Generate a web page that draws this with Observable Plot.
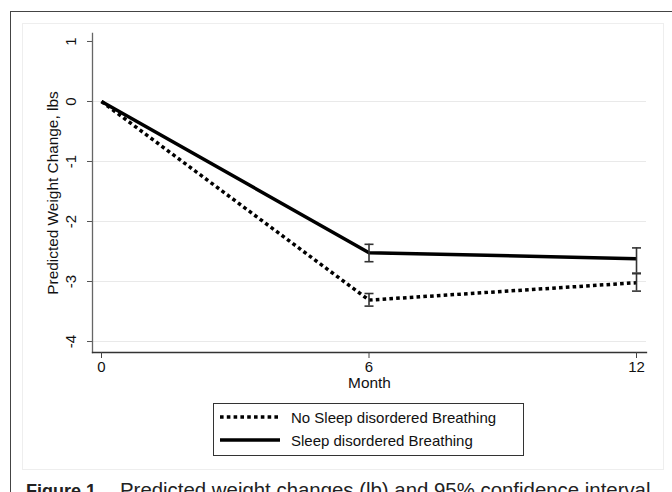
<!DOCTYPE html>
<html>
<head>
<meta charset="utf-8">
<script src="https://cdn.jsdelivr.net/npm/d3@7"></script>
<script src="https://cdn.jsdelivr.net/npm/@observablehq/plot@0.6"></script>
<style>
  html, body { margin: 0; padding: 0; background: #fff; }
  body { width: 672px; height: 492px; overflow: hidden; position: relative; font-family: "Liberation Sans", Arial, sans-serif; }
  #outer-top { position: absolute; left: 10px; top: 11px; width: 662px; height: 0; border-top: 1.5px solid #444; }
  #outer-left { position: absolute; left: 10px; top: 11px; width: 0; height: 481px; border-left: 1.5px solid #444; }
  #panel { position: absolute; left: 22px; top: 23px; width: 640px; height: 445px; border: 1px solid #eeeeee; }
  #chart { position: absolute; left: 0; top: 0; }
  #legend { position: absolute; left: 213px; top: 403px; width: 311px; height: 53px; border: 1px solid #333; background: #fff; box-sizing: border-box; }
  .row { position: absolute; left: 6px; height: 20px; display: flex; align-items: center; font-size: 15px; color: #111; }
  .row svg { margin-right: 11px; }
  #caption { position: absolute; left: 26px; top: 479px; font-size: 20.4px; color: #222; white-space: nowrap; }
  #caption b { font-size: 18px; margin-right: 19px; }
</style>
</head>
<body>
<div id="outer-top"></div>
<div id="outer-left"></div>
<div id="panel"></div>
<div id="chart"></div>
<div id="legend"></div>
<div id="caption"><b>Figure 1.</b>Predicted weight changes (lb) and 95% confidence interval</div>
<script>
// ---- data ----
const months = [0, 6, 12];
const seriesNames = ["No Sleep disordered Breathing", "Sleep disordered Breathing"];
const noSdbValues = [0, -3.31, -3.02];
const noSdbLow = [null, -3.41, -3.16];
const noSdbHigh = [null, -3.20, -2.87];
const sdbValues = [0, -2.52, -2.62];
const sdbLow = [null, -2.67, -2.86];
const sdbHigh = [null, -2.38, -2.44];
const yTicks = [1, 0, -1, -2, -3, -4];
const yGrid = [0, -1, -2, -3, -4];
const xTicks = [0, 6, 12];
const yLabel = "Predicted Weight Change, lbs";
const xLabel = "Month";

// ---- build tables ----
const rows = [];
months.forEach((m, i) => {
  rows.push({series: seriesNames[0], month: m, value: noSdbValues[i], lo: noSdbLow[i], hi: noSdbHigh[i]});
});
months.forEach((m, i) => {
  rows.push({series: seriesNames[1], month: m, value: sdbValues[i], lo: sdbLow[i], hi: sdbHigh[i]});
});
const bars = rows.filter(d => d.lo != null);
const caps = bars.flatMap(d => [{month: d.month, y: d.lo}, {month: d.month, y: d.hi}]);

const capSymbol = {
  draw(context) {
    context.moveTo(-4.5, 0);
    context.lineTo(4.5, 0);
  }
};

const font = '"Liberation Sans", Arial, sans-serif';

const plot = Plot.plot({
  width: 672,
  height: 400,
  marginLeft: 92,
  marginRight: 26,
  marginTop: 33,
  marginBottom: 48,
  style: {fontFamily: font, background: "transparent", color: "#111", overflow: "visible"},
  x: {domain: [-0.202, 12.224]},
  y: {domain: [-4.183, 1.133]},
  marks: [
    Plot.ruleY(yGrid, {stroke: "#e9e9e9", strokeWidth: 1}),
    Plot.frame({anchor: "left", stroke: "#666", strokeWidth: 1.3}),
    Plot.frame({anchor: "bottom", stroke: "#333", strokeWidth: 1.3}),
    Plot.axisY({ticks: yTicks, tickSize: 5, tickFormat: () => "", label: null, stroke: "#555"}),
    Plot.text(yTicks, {frameAnchor: "left", y: d => d, text: d => String(d), rotate: -90, dx: -21, textAnchor: "middle", lineAnchor: "middle", fontSize: 15, fill: "#111"}),
    Plot.text([yLabel], {frameAnchor: "left", text: d => d, rotate: -90, dx: -39, textAnchor: "middle", lineAnchor: "middle", fontSize: 15.4, fill: "#111"}),
    Plot.axisX({ticks: xTicks, tickSize: 6, tickPadding: 3, fontSize: 15, label: null, stroke: "#444"}),
    Plot.text([xLabel], {frameAnchor: "bottom", text: d => d, dy: 31, textAnchor: "middle", lineAnchor: "middle", fontSize: 15.4, fill: "#111"}),
    Plot.line(rows.filter(d => d.series === seriesNames[1]), {x: "month", y: "value", stroke: "#000", strokeWidth: 3.5, strokeLinecap: "butt", strokeLinejoin: "miter"}),
    Plot.line(rows.filter(d => d.series === seriesNames[0]), {x: "month", y: "value", stroke: "#000", strokeWidth: 3.5, strokeDasharray: "3.6,3.2", strokeLinecap: "butt"}),
    Plot.ruleX(bars, {x: "month", y1: "lo", y2: "hi", stroke: "#333", strokeWidth: 1.6}),
    Plot.dot(caps, {x: "month", y: "y", symbol: capSymbol, stroke: "#333", strokeWidth: 1.6, fill: "none", r: 4})
  ]
});
document.getElementById("chart").appendChild(plot);

// ---- legend ----
const legend = document.getElementById("legend");
seriesNames.forEach((name, i) => {
  const row = document.createElement("div");
  row.className = "row";
  row.style.top = (i === 0 ? 3 : 26) + "px";
  const dash = i === 0 ? 'stroke-dasharray="3.6,3.2"' : "";
  row.innerHTML = `<svg width="60" height="10"><line x1="0" y1="5" x2="60" y2="5" stroke="#000" stroke-width="3.5" ${dash}/></svg><span>${name}</span>`;
  legend.appendChild(row);
});
</script>
</body>
</html>
